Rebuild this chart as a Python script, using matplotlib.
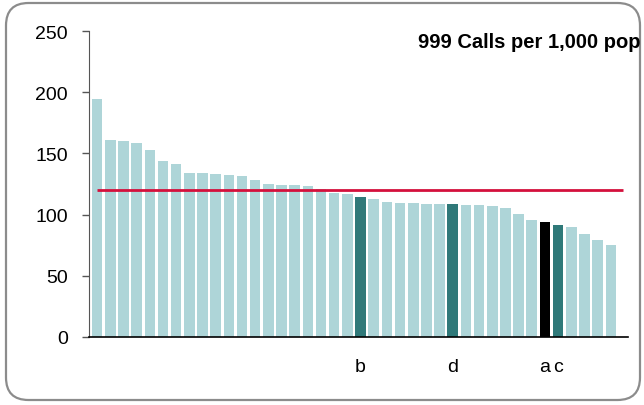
import matplotlib

matplotlib.use("Agg")
import matplotlib.pyplot as plt
from matplotlib.patches import FancyBboxPatch

# bar heights, sorted descending, one per area
values = [
    194.4, 160.9, 160.1, 158.5, 152.5, 143.8, 141.3, 134.0, 133.7, 133.2,
    132.4, 131.5, 128.3, 124.7, 124.2, 124.2, 123.4, 120.9, 117.6, 116.8,
    114.4, 113.0, 110.6, 109.7, 109.5, 108.4, 108.4, 108.4, 107.8, 107.6,
    107.0, 105.4, 100.8, 95.6, 94.0, 91.8, 89.9, 83.9, 79.5, 75.2,
]
# highlighted bars: index -> (label, kind)
highlight_idx = [20, 27, 34, 35]
highlight_labels = ["b", "d", "a", "c"]
highlight_kind = ["dark", "dark", "black", "dark"]
average = 119.8
title = "999 Calls per 1,000 pop"
yticks = [0, 50, 100, 150, 200, 250]

LIGHT = "#AED5D8"
DARK = "#2F7979"
BLACK = "#000000"
RED = "#D4103C"

plt.rcParams["font.family"] = ["Liberation Sans", "DejaVu Sans"]

fig = plt.figure(figsize=(6.44, 4.06), dpi=100)
ax = fig.add_axes([0.138, 0.1675, 0.837, 0.7535])

colors = [LIGHT] * len(values)
kind_colors = {"dark": DARK, "black": BLACK}
for i, k in zip(highlight_idx, highlight_kind):
    colors[i] = kind_colors[k]

x = list(range(len(values)))
ax.bar(x, values, width=0.8, color=colors, zorder=2)
ax.hlines(average, -0.05, len(values) - 0.1, color=RED, linewidth=2, zorder=3)

ax.set_xlim(-0.63, len(values) + 0.3)
ax.set_ylim(0, 250)
ax.set_yticks(yticks)
ax.set_xticks(highlight_idx)
ax.set_xticklabels(highlight_labels)
ax.tick_params(axis="x", length=0, pad=15, labelsize=14)
ax.tick_params(axis="y", length=5, width=1, color="#555555", pad=10, labelsize=14)

for side in ("top", "right"):
    ax.spines[side].set_visible(False)
ax.spines["left"].set_color("#555555")
ax.spines["bottom"].set_color("black")
ax.spines["bottom"].set_linewidth(1.2)

fig.text(418 / 644, 1 - 42 / 406, title, ha="left", va="center",
         fontsize=14.5, fontweight="bold")

border = FancyBboxPatch((6 / 644, 5 / 406), 634 / 644, 397 / 406,
                        boxstyle="round,pad=0,rounding_size=0.035",
                        transform=fig.transFigure, facecolor="none",
                        edgecolor="#8C8C8C", linewidth=1.6,
                        mutation_aspect=644 / 406)
fig.patches.append(border)

fig.savefig("out.png", dpi=100)
